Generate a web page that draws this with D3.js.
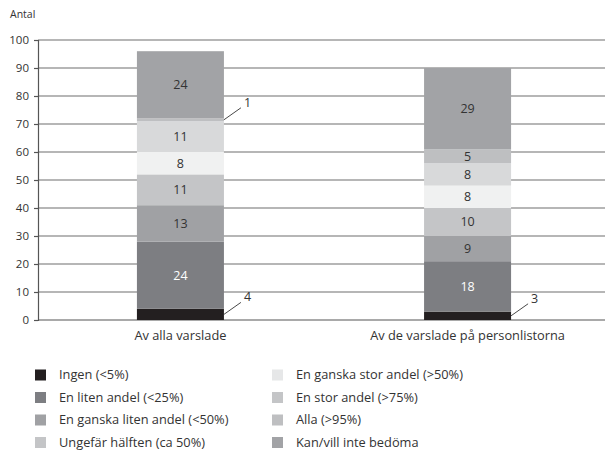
<!DOCTYPE html>
<html><head><meta charset="utf-8">
<script src="https://cdn.jsdelivr.net/npm/d3@7"></script>
<style>body{margin:0;background:#fff}svg{display:block}text{font-family:"Open Sans",sans-serif}</style>
</head><body>
<svg id="c" width="605" height="452"></svg>
<script>
const categories = ["Av alla varslade", "Av de varslade på personlistorna"];
const seriesNames = ["Ingen (<5%)", "En liten andel (<25%)", "En ganska liten andel (<50%)", "Ungefär hälften (ca 50%)", "En ganska stor andel (>50%)", "En stor andel (>75%)", "Alla (>95%)", "Kan/vill inte bedöma"];
const values1 = [4, 24, 13, 11, 8, 11, 1, 24];
const values2 = [3, 18, 9, 10, 8, 8, 5, 29];
const colors = ["#231f20", "#7d7e82", "#a0a1a4", "#c4c5c7", "#f0f1f1", "#d8d9da", "#bebfc1", "#a2a3a6"];
const legendColors = ["#231f20", "#7d7e82", "#a0a1a4", "#c4c5c7", "#e6e7e8", "#c4c5c7", "#bebfc1", "#a2a3a6"];
const yTicks = [0, 10, 20, 30, 40, 50, 60, 70, 80, 90, 100];

const svg = d3.select("#c");
const x = d3.scaleBand().domain(categories).range([37, 611]).paddingInner(0.697).paddingOuter(0.348);
const y = d3.scaleLinear().domain([0, 100]).range([320, 40]);
const X0 = 38, X1 = 605;

svg.append("g").selectAll("line").data(yTicks.slice(1)).join("line")
  .attr("x1", X0).attr("x2", X1).attr("y1", d => y(d)).attr("y2", d => y(d))
  .attr("stroke", "#6e6e6e").attr("stroke-width", 1.2);

const ax = svg.append("g").attr("transform", `translate(${X0},0)`)
  .call(d3.axisLeft(y).tickValues(yTicks).tickSize(4).tickPadding(5));
ax.select(".domain").attr("stroke", "#555").attr("stroke-width", 1.2);
ax.selectAll(".tick line").attr("stroke", "#555").attr("stroke-width", 1.2);
ax.selectAll(".tick text").attr("font-size", 11.5).attr("fill", "#333").attr("font-family", "Open Sans");

svg.append("line").attr("x1", X0).attr("x2", X1).attr("y1", y(0)).attr("y2", y(0)).attr("stroke", "#555").attr("stroke-width", 1.2);

const data = [values1, values2];
data.forEach((vals, ci) => {
  const cat = categories[ci];
  let cum = 0;
  const segs = vals.map((v, i) => { const s = {i, v, y0: cum, y1: cum + v}; cum += v; return s; });
  const g = svg.append("g");
  g.selectAll("rect").data(segs).join("rect")
    .attr("x", x(cat)).attr("width", x.bandwidth())
    .attr("y", d => y(d.y1)).attr("height", d => y(d.y0) - y(d.y1))
    .attr("fill", d => colors[d.i]);
  g.selectAll("text").data(segs.filter(d => d.v >= 5)).join("text")
    .attr("x", x(cat) + x.bandwidth() / 2).attr("y", d => y((d.y0 + d.y1) / 2))
    .attr("dy", "0.35em").attr("text-anchor", "middle").attr("font-size", 12.5)
    .attr("fill", d => d.i === 1 ? "#fff" : "#333").text(d => d.v);
  segs.filter(d => d.v < 5).forEach(d => {
    const xr = x(cat) + x.bandwidth();
    const ym = y((d.y0 + d.y1) / 2);
    g.append("line").attr("x1", xr).attr("y1", ym).attr("x2", xr + 17).attr("y2", ym - 12)
      .attr("stroke", "#333").attr("stroke-width", 0.9);
    g.append("text").attr("x", xr + 20).attr("y", ym - 13).attr("font-size", 12.5).attr("fill", "#333").text(d.v);
  });
});

svg.append("g").selectAll("text").data(categories).join("text")
  .attr("x", d => x(d) + x.bandwidth() / 2).attr("y", 340).attr("text-anchor", "middle")
  .attr("font-size", 12.8).attr("fill", "#333").text(d => d);

svg.append("text").attr("x", 10).attr("y", 18).attr("font-size", 10.5).attr("fill", "#333").text("Antal");

const lg = svg.append("g");
seriesNames.forEach((n, i) => {
  const col = Math.floor(i / 4), row = i % 4;
  const lx = col === 0 ? 35 : 272;
  const ly = 375 + row * 22.5;
  lg.append("rect").attr("x", lx).attr("y", ly - 5.5).attr("width", 11).attr("height", 11).attr("fill", legendColors[i]);
  lg.append("text").attr("x", lx + 24).attr("y", ly).attr("dy", "0.35em").attr("font-size", 12.8).attr("fill", "#333").text(n);
});
</script>
</body></html>
